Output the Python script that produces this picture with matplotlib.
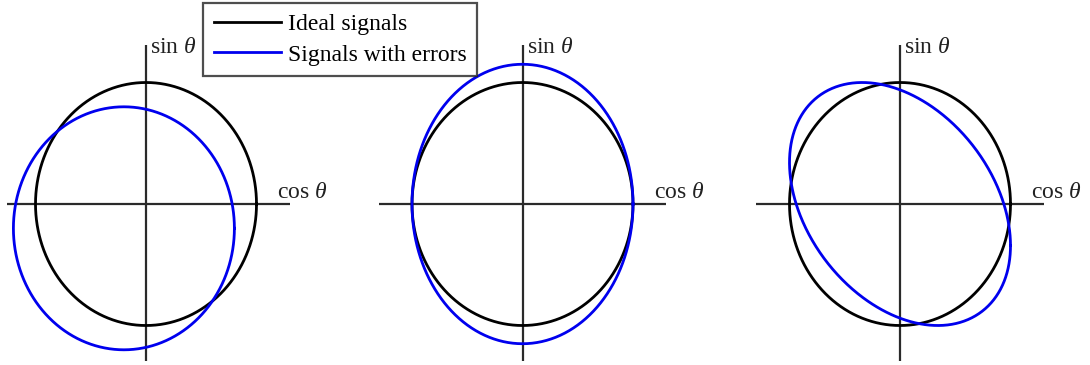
import numpy as np
import matplotlib
matplotlib.use("Agg")
import matplotlib.pyplot as plt

plt.rcParams["font.family"] = ["Liberation Serif", "DejaVu Serif"]
plt.rcParams["mathtext.fontset"] = "custom"
plt.rcParams["mathtext.rm"] = "Liberation Serif"
plt.rcParams["mathtext.it"] = "Liberation Serif:italic"

# Error parameters for each panel: offset (dc), amplitude, phase
cos_offsets = [-0.2, 0.0, 0.0]
sin_offsets = [-0.2, 0.0, 0.0]
sin_amplitudes = [1.0, 1.15, 1.0]
phase_errors_deg = [0.0, 0.0, -20.0]

legend_labels = ["Ideal signals", "Signals with errors"]
x_label = r"cos $\theta$"
y_label = r"sin $\theta$"

W, H = 1090, 365
fig = plt.figure(figsize=(W / 100, H / 100), dpi=100)

origins_px = [146, 522.5, 900]   # x pixel of each panel origin
origin_y_px = 204
sx, sy = 110.5, 121.5            # pixels per unit
half_w = 180
x_axis_left = [-1.26, -1.30, -1.30]

theta = np.linspace(0, 2 * np.pi, 721)
handles = None
for i, ox in enumerate(origins_px):
    left = (ox - half_w) / W
    ax = fig.add_axes([left, 0, 2 * half_w / W, 1])
    ax.set_xlim(-half_w / sx, half_w / sx)
    ax.set_ylim(-(H - origin_y_px) / sy, origin_y_px / sy)
    ax.axis("off")

    # coordinate axes
    ax.plot([x_axis_left[i], 1.30], [0, 0], color="#2a2a2a", lw=1.6,
            solid_capstyle="butt")
    ax.plot([0, 0], [-1.29, 1.31], color="#2a2a2a", lw=1.6,
            solid_capstyle="butt")

    ideal, = ax.plot(np.cos(theta), np.sin(theta), color="black", lw=2.0)
    phi = np.deg2rad(phase_errors_deg[i])
    xe = cos_offsets[i] + np.cos(theta)
    ye = sin_offsets[i] + sin_amplitudes[i] * np.sin(theta + phi)
    err, = ax.plot(xe, ye, color="#0000ee", lw=2.0)
    if handles is None:
        handles = [ideal, err]

    ax.text(0.04, 1.24, y_label, fontsize=17, color="#222222",
            ha="left", va="baseline")
    ax.text(1.19, 0.05, x_label, fontsize=17, color="#222222",
            ha="left", va="baseline")

leg = fig.legend(handles, legend_labels, loc="upper left",
                 bbox_to_anchor=(203 / W, 1 - 3 / H), fontsize=17,
                 frameon=True, fancybox=False, edgecolor="#222222",
                 handlelength=2.85, handletextpad=0.3, borderpad=0.45,
                 labelspacing=0.38, borderaxespad=0)
leg.get_frame().set_linewidth(1.6)

fig.savefig("out.png", dpi=100, facecolor="white")
